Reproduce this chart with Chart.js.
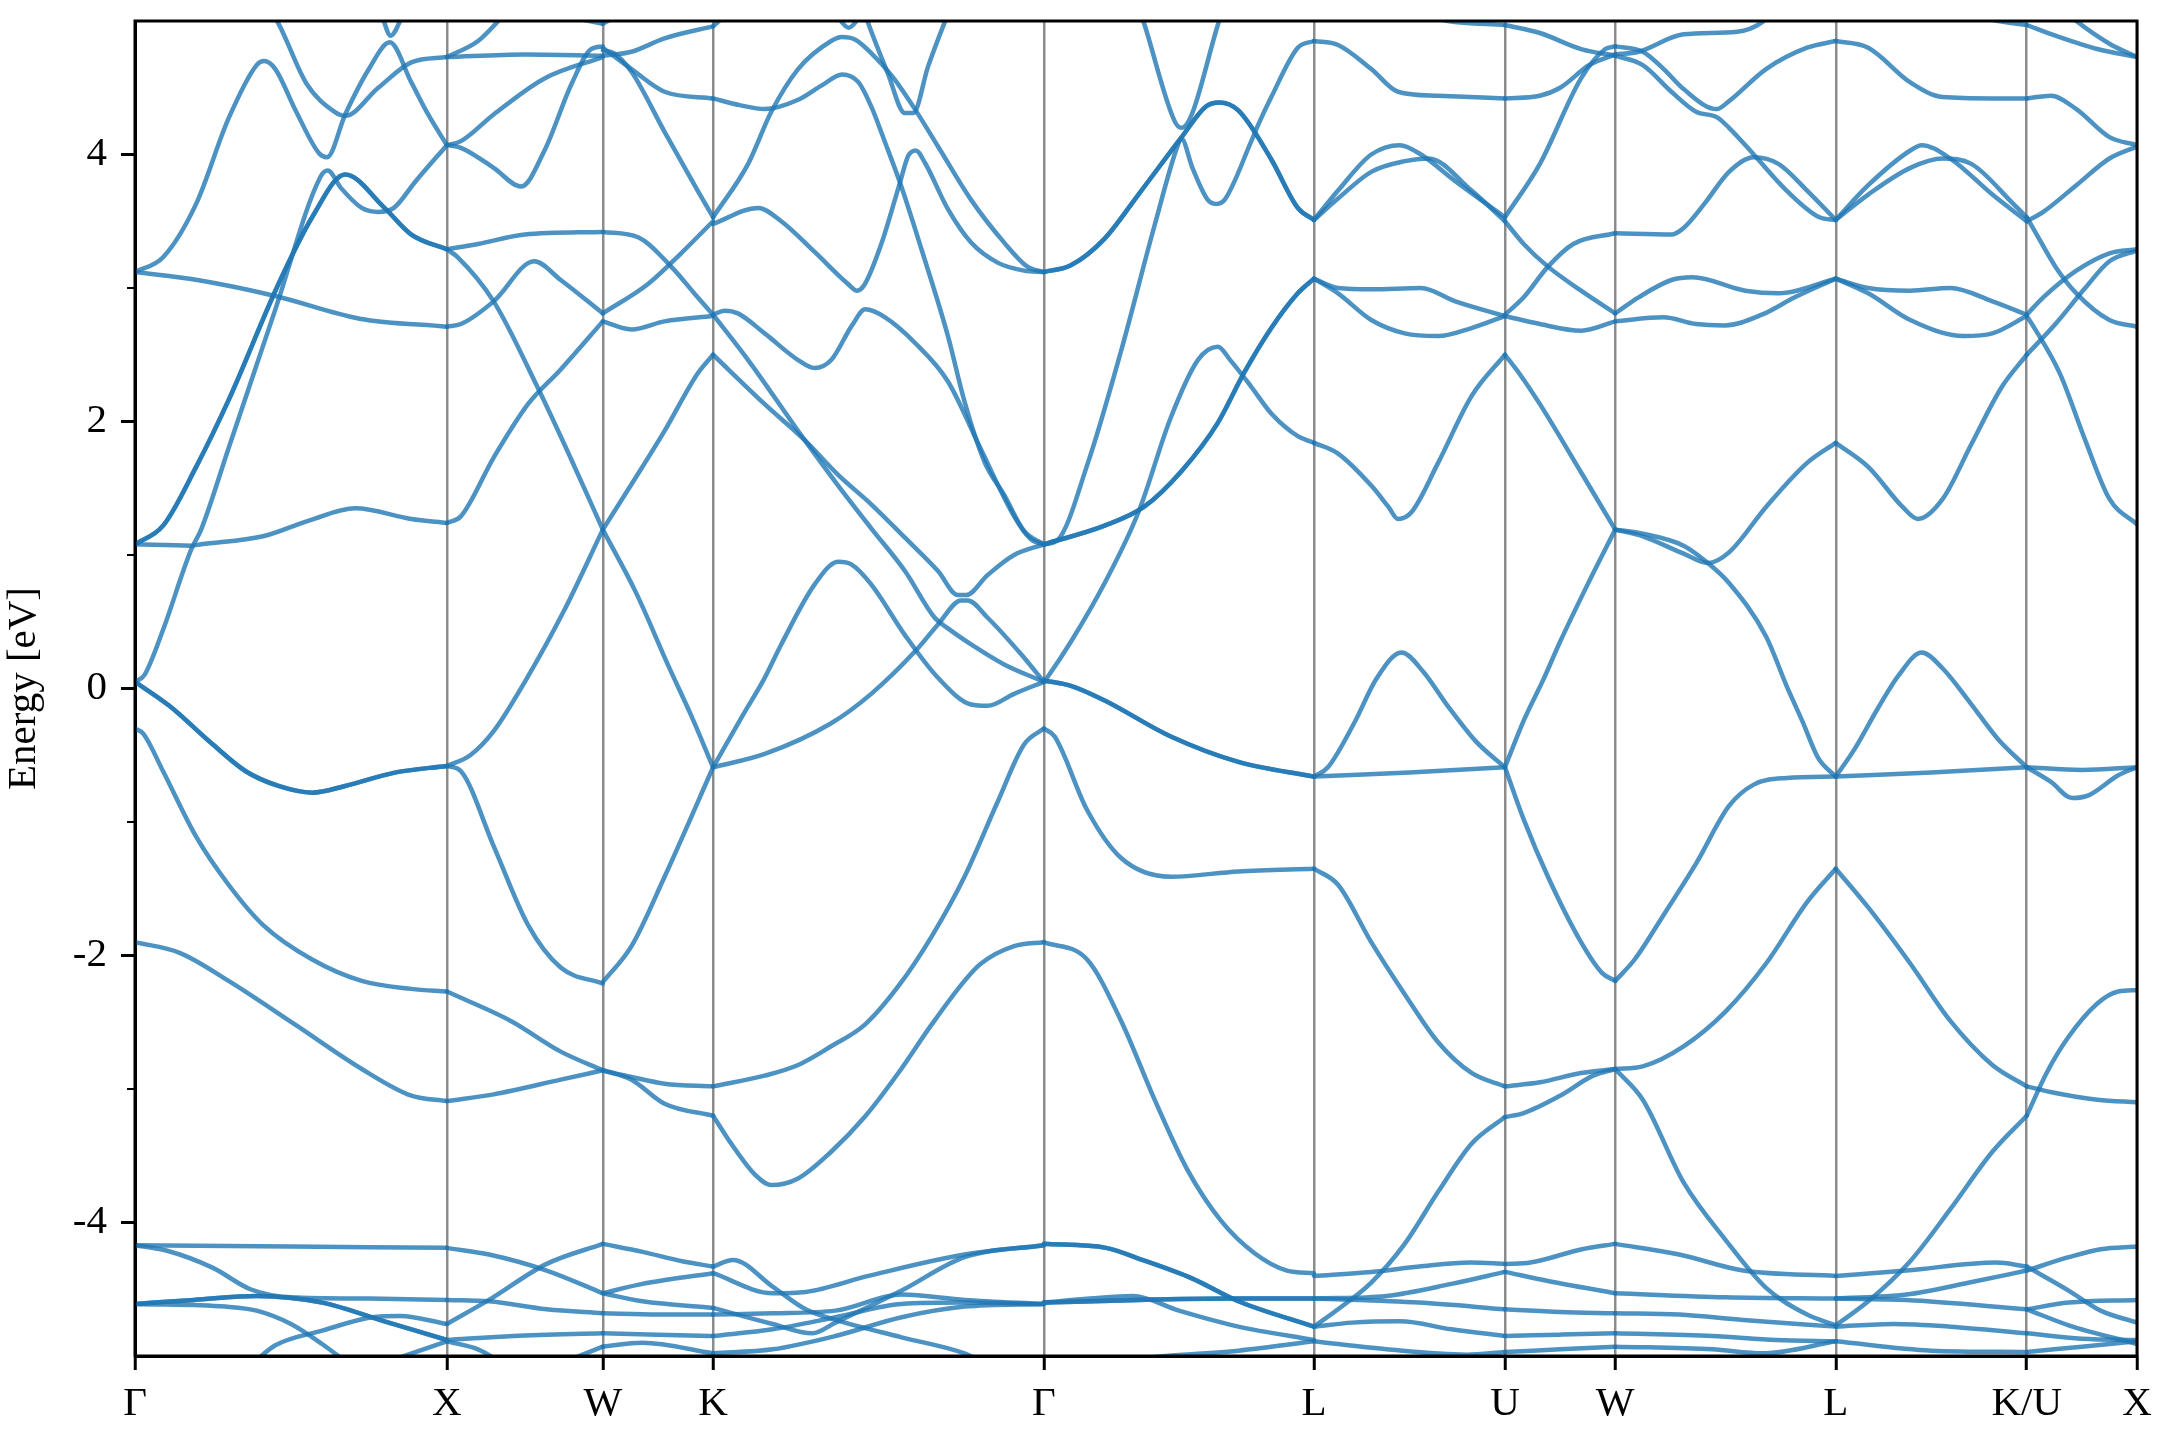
<!DOCTYPE html>
<html>
<head>
<meta charset="utf-8">
<script src="https://cdn.jsdelivr.net/npm/chart.js@4.4.1/dist/chart.umd.min.js"></script>
<style>
  html, body { margin: 0; padding: 0; background: #fff; }
  #bands { display: block; }
</style>
</head>
<body>
<canvas id="bands" width="2160" height="1440"></canvas>
<script>
"use strict";

// High-symmetry path (FCC), segment lengths in 2pi/a
const kLabels = ['Γ', 'X', 'W', 'K', 'Γ', 'L', 'U', 'W', 'L', 'K/U', 'X'];
const segLengths = [1, 0.5, 0.35355, 1.06066, 0.86603, 0.61237, 0.35355, 0.70711, 0.61237, 0.35355];
const energyTicks = [-4, -2, 0, 2, 4];

// degenerate bands are listed twice
const twice = band => [band, band];

// Each band: [fraction along segment, energy in eV]
const gammaX = [
  ...twice([[0,1.08],[0.09,1.22],[0.196,1.66],[0.3,2.16],[0.46,3.03],[0.568,3.53],[0.674,3.85],[0.8,3.6],[0.886,3.4],[1,3.29]]),
  [[0,0.05],[0.03,0.1],[0.09,0.44],[0.18,1.04],[0.212,1.19],[0.3,1.8],[0.45,2.84],[0.594,3.83],[0.618,3.88],[0.66,3.75],[0.727,3.6],[0.78,3.57],[0.83,3.6],[0.9,3.8],[1,4.07]],
  [[0,1.08],[0.18,1.07],[0.212,1.08],[0.41,1.14],[0.56,1.26],[0.706,1.35],[0.886,1.27],[1,1.24]],
  [[0,3.12],[0.2,3.06],[0.45,2.94],[0.72,2.77],[1,2.71]],
  [[0,3.12],[0.09,3.23],[0.196,3.63],[0.3,4.27],[0.39,4.67],[0.414,4.7],[0.45,4.64],[0.515,4.33],[0.59,4.01],[0.616,3.98],[0.674,4.3],[0.75,4.64],[0.817,4.84],[0.886,4.54],[0.94,4.3],[1,4.07]],
  [[0.44,5.05],[0.46,4.98],[0.55,4.53],[0.64,4.32],[0.674,4.29],[0.78,4.5],[0.886,4.69],[1,4.73]],
  [[0.79,5.05],[0.82,4.89],[0.86,5.05]],
  ...twice([[0,0.05],[0.11,-0.13],[0.25,-0.42],[0.355,-0.62],[0.46,-0.73],[0.568,-0.78],[0.674,-0.73],[0.833,-0.63],[1,-0.58]]),
  [[0,-0.3],[0.027,-0.34],[0.09,-0.62],[0.196,-1.11],[0.3,-1.47],[0.41,-1.77],[0.568,-2.03],[0.727,-2.19],[0.886,-2.25],[1,-2.27]],
  [[0,-1.9],[0.143,-1.98],[0.3,-2.19],[0.515,-2.52],[0.727,-2.85],[0.886,-3.05],[1,-3.09]],
  [[0,-4.17],[0.5,-4.18],[1,-4.19]],
  [[0,-4.17],[0.1,-4.21],[0.25,-4.34],[0.37,-4.5],[0.5,-4.56],[0.75,-4.57],[1,-4.58]],
  ...twice([[0,-4.61],[0.19,-4.58],[0.39,-4.55],[0.6,-4.6],[0.8,-4.74],[1,-4.88]]),
  [[0,-4.61],[0.29,-4.63],[0.39,-4.66],[0.5,-4.76],[0.6,-4.91],[0.68,-5.05]],
  [[0.38,-5.05],[0.45,-4.92],[0.6,-4.81],[0.76,-4.71],[0.85,-4.7],[1,-4.76]],
  [[0.8,-5.05],[1,-4.89]]
];

const xW = [
  [[0,4.73],[0.5,4.75],[1,4.74]],
  [[0,4.73],[0.2,4.85],[0.37,5.05]],
  [[0.7,5.05],[1,4.98]],
  [[0,4.07],[0.09,4.05],[0.3,3.9],[0.476,3.76],[0.626,4.03],[0.8,4.53],[0.925,4.79],[1,4.81]],
  [[0,4.07],[0.09,4.1],[0.3,4.3],[0.626,4.57],[1,4.73]],
  [[0,3.29],[0.2,3.33],[0.5,3.4],[1,3.42]],
  [[0,3.29],[0.07,3.23],[0.3,2.9],[0.58,2.26],[0.8,1.71],[1,1.19]],
  [[0,2.71],[0.09,2.73],[0.3,2.9],[0.56,3.2],[0.73,3.06],[1,2.81]],
  [[0,1.24],[0.09,1.29],[0.3,1.73],[0.52,2.13],[0.73,2.39],[1,2.75]],
  [[0,-0.58],[0.15,-0.5],[0.3,-0.32],[0.5,0.05],[0.75,0.58],[1,1.19]],
  [[0,-0.58],[0.09,-0.62],[0.3,-1.18],[0.52,-1.77],[0.73,-2.09],[1,-2.21]],
  [[0,-2.27],[0.41,-2.49],[0.73,-2.72],[1,-2.86]],
  [[0,-3.09],[0.3,-3.04],[0.73,-2.93],[1,-2.86]],
  [[0,-4.19],[0.27,-4.24],[0.64,-4.36],[1,-4.53]],
  [[0,-4.58],[0.27,-4.59],[0.64,-4.65],[1,-4.68]],
  [[0,-4.76],[0.27,-4.58],[0.64,-4.31],[1,-4.16]],
  [[0,-4.88],[0.43,-4.85],[1,-4.83]],
  [[0,-4.89],[0.2,-4.95],[0.35,-5.05]],
  [[0.74,-5.05],[1,-4.93]]
];

const wK = [
  [[0,4.98],[0.15,5.05]],
  [[0,4.74],[0.26,4.77],[0.56,4.87],[1,4.96]],
  [[0,4.8],[0.26,4.64],[0.56,4.47],[1,4.42]],
  [[0,4.78],[0.1,4.76],[0.26,4.62],[0.56,4.17],[0.86,3.73],[1,3.53]],
  [[0,3.42],[0.32,3.38],[0.62,3.16],[0.86,2.93],[1,2.8]],
  [[0,2.81],[0.41,3.03],[0.71,3.26],[1,3.5]],
  [[0,2.75],[0.26,2.69],[0.56,2.75],[1,2.79]],
  [[0,1.19],[0.26,1.53],[0.56,1.93],[0.86,2.36],[1,2.5]],
  [[0,1.19],[0.3,0.72],[0.6,0.16],[0.8,-0.2],[1,-0.59]],
  [[0,-2.2],[0.26,-1.93],[0.56,-1.41],[1,-0.59]],
  [[0,-2.86],[0.26,-2.91],[0.56,-2.96],[1,-2.98]],
  [[0,-2.86],[0.26,-2.93],[0.56,-3.11],[1,-3.2]],
  [[0,-4.16],[0.36,-4.22],[0.72,-4.29],[1,-4.33]],
  [[0,-4.53],[0.36,-4.46],[1,-4.38]],
  [[0,-4.53],[0.36,-4.59],[1,-4.64]],
  [[0,-4.68],[0.5,-4.69],[1,-4.69]],
  [[0,-4.83],[0.5,-4.84],[1,-4.85]],
  [[0,-4.93],[0.36,-4.9],[1,-4.98]]
];

const kGamma = [
  [[0,4.96],[0.04,5.05]],
  [[0.37,5.05],[0.41,4.95],[0.45,5.05]],
  [[0,4.42],[0.08,4.37],[0.156,4.34],[0.257,4.41],[0.33,4.52],[0.39,4.6],[0.44,4.54],[0.478,4.36],[0.52,4.09],[0.565,3.79],[0.63,3.29],[0.71,2.64],[0.76,2.15],[0.82,1.7],[0.88,1.45],[0.94,1.18],[1,1.08]],
  [[0,3.53],[0.106,3.93],[0.176,4.32],[0.257,4.64],[0.357,4.85],[0.39,4.88],[0.43,4.86],[0.478,4.76],[0.54,4.59],[0.61,4.34],[0.68,4.06],[0.78,3.66],[0.88,3.34],[0.95,3.16],[1,3.12]],
  [[0,3.48],[0.136,3.6],[0.206,3.5],[0.307,3.27],[0.408,3.03],[0.435,2.98],[0.459,3.03],[0.51,3.34],[0.565,3.79],[0.59,3.99],[0.613,4.03],[0.64,3.94],[0.71,3.59],[0.78,3.34],[0.86,3.19],[0.94,3.13],[1,3.12]],
  [[0.46,5.05],[0.468,4.99],[0.528,4.61],[0.58,4.31],[0.605,4.31],[0.65,4.66],[0.7,4.99],[0.71,5.05]],
  [[0,2.8],[0.035,2.83],[0.075,2.81],[0.156,2.66],[0.257,2.46],[0.307,2.4],[0.357,2.46],[0.42,2.72],[0.46,2.84],[0.52,2.78],[0.61,2.59],[0.71,2.3],[0.81,1.79],[0.91,1.29],[0.96,1.12],[1,1.08]],
  [[0,2.8],[0.106,2.46],[0.277,1.86],[0.378,1.52],[0.478,1.2],[0.58,0.88],[0.67,0.53],[0.71,0.45],[0.78,0.33],[0.88,0.18],[1,0.05]],
  [[0,2.5],[0.156,2.13],[0.277,1.86],[0.378,1.6],[0.478,1.38],[0.58,1.13],[0.68,0.88],[0.74,0.7],[0.765,0.7],[0.83,0.85],[0.91,1],[1,1.08]],
  [[0,-0.59],[0.09,-0.2],[0.156,0.08],[0.206,0.33],[0.307,0.78],[0.378,0.95],[0.418,0.93],[0.478,0.78],[0.58,0.4],[0.68,0.08],[0.78,-0.12],[0.83,-0.13],[0.91,-0.04],[1,0.05]],
  [[0,-0.59],[0.156,-0.49],[0.357,-0.26],[0.478,-0.04],[0.615,0.29],[0.68,0.48],[0.75,0.66],[0.77,0.66],[0.83,0.53],[0.93,0.26],[1,0.05]],
  [[0,-2.98],[0.156,-2.9],[0.257,-2.82],[0.357,-2.68],[0.458,-2.52],[0.56,-2.23],[0.66,-1.86],[0.76,-1.41],[0.86,-0.85],[0.94,-0.42],[1,-0.3]],
  [[0,-3.2],[0.055,-3.41],[0.126,-3.64],[0.176,-3.72],[0.257,-3.67],[0.357,-3.47],[0.458,-3.21],[0.56,-2.88],[0.66,-2.52],[0.76,-2.19],[0.81,-2.06],[0.91,-1.93],[1,-1.9]],
  [[0,-4.33],[0.06,-4.28],[0.18,-4.48],[0.28,-4.65],[0.37,-4.73],[0.57,-4.86],[0.76,-4.98],[0.82,-5.05]],
  [[0,-4.38],[0.18,-4.53],[0.28,-4.52],[0.47,-4.4],[0.76,-4.24],[1,-4.17]],
  [[0,-4.64],[0.18,-4.76],[0.3,-4.83],[0.37,-4.75],[0.57,-4.51],[0.76,-4.26],[1,-4.17]],
  [[0,-4.69],[0.18,-4.68],[0.37,-4.66],[0.57,-4.54],[0.76,-4.58],[1,-4.61]],
  [[0,-4.85],[0.18,-4.8],[0.37,-4.71],[0.57,-4.61],[0.76,-4.6],[1,-4.61]],
  [[0,-4.98],[0.18,-4.95],[0.37,-4.85],[0.57,-4.71],[0.76,-4.63],[1,-4.61]]
];

const gammaL = [
  [[0,1.08],[0.05,1.11],[0.163,1.69],[0.286,2.53],[0.41,3.47],[0.496,4.07],[0.509,4.12],[0.55,3.9],[0.607,3.66],[0.638,3.63],[0.669,3.66],[0.768,4.1],[0.793,4.22],[0.842,4.43],[0.94,4.8],[1,4.85]],
  [[0.36,5.05],[0.373,4.97],[0.484,4.25],[0.509,4.2],[0.644,4.97],[0.655,5.05]],
  ...twice([[0,3.12],[0.1,3.17],[0.225,3.37],[0.35,3.7],[0.51,4.13],[0.6,4.36],[0.65,4.39],[0.72,4.33],[0.84,3.97],[0.94,3.6],[1,3.51]]),
  ...twice([[0,1.08],[0.225,1.22],[0.37,1.36],[0.51,1.63],[0.644,1.99],[0.74,2.36],[0.842,2.7],[0.94,2.96],[1,3.07]]),
  [[0,0.05],[0.015,0.09],[0.1,0.35],[0.225,0.79],[0.35,1.32],[0.47,2.03],[0.57,2.46],[0.644,2.56],[0.69,2.46],[0.768,2.26],[0.842,2.06],[0.94,1.89],[1,1.84]],
  ...twice([[0,0.06],[0.1,0.02],[0.225,-0.09],[0.47,-0.36],[0.72,-0.55],[1,-0.66]]),
  [[0,-0.3],[0.04,-0.36],[0.16,-0.91],[0.286,-1.27],[0.47,-1.41],[0.72,-1.37],[1,-1.35]],
  [[0,-1.9],[0.16,-2.03],[0.286,-2.49],[0.41,-3.08],[0.53,-3.6],[0.657,-3.99],[0.78,-4.23],[0.9,-4.36],[1,-4.38]],
  ...twice([[0,-4.16],[0.23,-4.19],[0.35,-4.27],[0.55,-4.42],[0.72,-4.59],[1,-4.78]]),
  ...twice([[0,-4.6],[0.35,-4.58],[0.7,-4.57],[1,-4.57]]),
  [[0,-4.6],[0.17,-4.57],[0.33,-4.55],[0.5,-4.66],[0.72,-4.78],[1,-4.88]],
  [[0.2,-5.05],[0.45,-5],[0.72,-4.96],[1,-4.89]]
];

const lU = [
  [[0.55,5.05],[0.7,5],[1,4.97]],
  [[0,4.85],[0.126,4.82],[0.3,4.64],[0.44,4.47],[0.65,4.44],[1,4.42]],
  [[0,3.51],[0.126,3.73],[0.3,4],[0.45,4.07],[0.56,4],[0.74,3.8],[1,3.53]],
  [[0,3.51],[0.126,3.67],[0.3,3.87],[0.475,3.95],[0.6,3.97],[0.825,3.73],[1,3.5]],
  [[0,3.07],[0.126,3],[0.3,2.99],[0.56,3],[0.74,2.9],[1,2.79]],
  [[0,3.07],[0.126,2.96],[0.3,2.76],[0.475,2.66],[0.65,2.64],[0.825,2.7],[1,2.79]],
  [[0,1.84],[0.126,1.76],[0.3,1.52],[0.39,1.36],[0.44,1.27],[0.51,1.32],[0.65,1.69],[0.825,2.19],[1,2.5]],
  [[0,-0.66],[0.5,-0.63],[1,-0.59]],
  [[0,-0.66],[0.073,-0.59],[0.21,-0.26],[0.33,0.08],[0.458,0.27],[0.57,0.13],[0.7,-0.13],[0.85,-0.4],[1,-0.59]],
  [[0,-1.35],[0.126,-1.47],[0.3,-1.9],[0.475,-2.29],[0.65,-2.65],[0.825,-2.88],[1,-2.98]],
  [[0,-4.78],[0.126,-4.65],[0.3,-4.45],[0.475,-4.16],[0.65,-3.77],[0.825,-3.41],[1,-3.21]],
  [[0,-4.4],[0.3,-4.37],[0.55,-4.33],[0.82,-4.3],[1,-4.31]],
  [[0,-4.57],[0.38,-4.55],[0.72,-4.46],[1,-4.37]],
  [[0,-4.57],[0.55,-4.6],[1,-4.65]],
  [[0,-4.78],[0.2,-4.75],[0.45,-4.74],[0.72,-4.8],[1,-4.85]],
  [[0,-4.89],[0.38,-4.95],[0.8,-4.99],[1,-4.97]]
];

const uW = [
  [[0,4.97],[0.317,4.91],[0.69,4.79],[1,4.74]],
  [[0,4.42],[0.317,4.44],[0.5,4.5],[0.765,4.67],[1,4.75]],
  [[0,3.53],[0.317,3.93],[0.69,4.57],[0.91,4.79],[1,4.81]],
  [[0,3.5],[0.17,3.33],[0.39,3.16],[0.69,2.98],[1,2.81]],
  [[0,2.8],[0.17,2.93],[0.39,3.16],[0.62,3.33],[1,3.41]],
  [[0,2.79],[0.317,2.73],[0.69,2.68],[1,2.75]],
  [[0,2.5],[0.13,2.36],[0.317,2.13],[0.69,1.62],[1,1.19]],
  [[0,-0.59],[0.17,-0.24],[0.35,0.07],[0.5,0.35],[0.75,0.78],[1,1.19]],
  [[0,-0.59],[0.17,-0.98],[0.39,-1.41],[0.69,-1.9],[0.88,-2.13],[1,-2.19]],
  [[0,-2.98],[0.317,-2.95],[0.69,-2.88],[1,-2.85]],
  [[0,-3.21],[0.17,-3.18],[0.5,-3.05],[0.8,-2.9],[1,-2.85]],
  [[0,-4.31],[0.23,-4.3],[0.7,-4.2],[1,-4.16]],
  [[0,-4.37],[0.4,-4.44],[1,-4.53]],
  [[0,-4.65],[0.5,-4.67],[1,-4.68]],
  [[0,-4.85],[0.5,-4.84],[1,-4.83]],
  [[0,-4.97],[0.5,-4.95],[1,-4.93]]
];

const wL = [
  [[0,4.74],[0.125,4.67],[0.255,4.47],[0.367,4.32],[0.46,4.28],[0.516,4.2],[0.628,4],[0.777,3.73],[0.926,3.53],[1,3.51]],
  [[0,4.81],[0.125,4.77],[0.22,4.64],[0.31,4.49],[0.46,4.34],[0.516,4.4],[0.684,4.64],[0.87,4.8],[1,4.85]],
  [[0,4.75],[0.106,4.77],[0.31,4.9],[0.553,4.92],[0.665,4.99],[0.7,5.05]],
  [[0,3.41],[0.255,3.4],[0.31,3.45],[0.404,3.63],[0.516,3.87],[0.628,3.98],[0.74,3.93],[0.87,3.73],[1,3.51]],
  [[0,2.81],[0.106,2.93],[0.255,3.06],[0.35,3.08],[0.59,2.98],[0.74,2.96],[1,3.07]],
  [[0,2.75],[0.218,2.78],[0.367,2.73],[0.497,2.72],[0.665,2.8],[0.814,2.93],[1,3.07]],
  [[0,1.19],[0.125,1.14],[0.31,1.01],[0.42,0.94],[0.516,1.02],[0.684,1.36],[0.87,1.69],[1,1.84]],
  [[0,1.19],[0.125,1.16],[0.31,1.07],[0.42,0.94],[0.516,0.79],[0.684,0.39],[0.777,0.02],[0.85,-0.25],[0.92,-0.52],[1,-0.66]],
  [[0,-2.19],[0.088,-2.03],[0.218,-1.7],[0.367,-1.31],[0.516,-0.88],[0.628,-0.72],[0.777,-0.67],[1,-0.66]],
  [[0,-2.85],[0.125,-2.83],[0.31,-2.68],[0.5,-2.42],[0.684,-2.06],[0.87,-1.6],[1,-1.35]],
  [[0,-2.85],[0.125,-3.08],[0.31,-3.7],[0.5,-4.13],[0.684,-4.49],[0.87,-4.69],[1,-4.77]],
  [[0,-4.16],[0.29,-4.24],[0.58,-4.36],[1,-4.4]],
  [[0,-4.53],[0.5,-4.56],[1,-4.57]],
  [[0,-4.68],[0.29,-4.69],[0.58,-4.73],[1,-4.78]],
  [[0,-4.83],[0.44,-4.85],[0.73,-4.88],[1,-4.89]],
  [[0,-4.93],[0.44,-4.95],[0.67,-4.98],[1,-4.89]]
];

const lK = [
  [[0.7,5.05],[0.85,5],[1,4.97]],
  [[0,4.85],[0.17,4.8],[0.39,4.54],[0.56,4.43],[0.82,4.42],[1,4.42]],
  [[0,3.51],[0.17,3.77],[0.39,4.03],[0.45,4.07],[0.6,3.97],[0.82,3.7],[1,3.5]],
  [[0,3.51],[0.17,3.7],[0.39,3.9],[0.56,3.97],[0.71,3.93],[0.93,3.63],[1,3.53]],
  [[0,3.07],[0.17,3],[0.39,2.98],[0.6,3],[0.82,2.9],[1,2.8]],
  [[0,3.07],[0.17,2.96],[0.39,2.76],[0.67,2.64],[0.82,2.66],[1,2.79]],
  [[0,1.84],[0.17,1.66],[0.35,1.36],[0.43,1.27],[0.56,1.42],[0.71,1.83],[0.87,2.26],[1,2.5]],
  [[0,-0.66],[0.5,-0.63],[1,-0.59]],
  [[0,-0.66],[0.1,-0.45],[0.22,-0.15],[0.33,0.1],[0.45,0.27],[0.56,0.15],[0.7,-0.1],[0.85,-0.38],[1,-0.59]],
  [[0,-1.35],[0.17,-1.64],[0.39,-2.06],[0.6,-2.49],[0.82,-2.82],[1,-2.98]],
  [[0,-4.77],[0.17,-4.59],[0.39,-4.29],[0.6,-3.9],[0.82,-3.47],[1,-3.2]],
  [[0,-4.4],[0.37,-4.36],[0.84,-4.3],[1,-4.33]],
  [[0,-4.57],[0.37,-4.54],[0.7,-4.45],[1,-4.36]],
  [[0,-4.57],[0.37,-4.58],[1,-4.65]],
  [[0,-4.78],[0.3,-4.76],[0.6,-4.78],[1,-4.83]],
  [[0,-4.89],[0.5,-4.96],[1,-4.97]]
];

const uX = [
  [[0,4.97],[0.26,4.89],[0.64,4.79],[1,4.73]],
  [[0.38,5.05],[0.45,5],[0.75,4.83],[1,4.73]],
  [[0,4.42],[0.22,4.44],[0.45,4.34],[0.75,4.13],[1,4.07]],
  [[0,3.5],[0.15,3.57],[0.45,3.77],[0.75,3.97],[1,4.06]],
  [[0,3.53],[0.07,3.43],[0.26,3.16],[0.45,2.96],[0.75,2.76],[1,2.71]],
  [[0,2.8],[0.15,2.93],[0.45,3.13],[0.75,3.26],[1,3.29]],
  [[0,2.5],[0.26,2.73],[0.53,3],[0.75,3.2],[1,3.28]],
  [[0,2.79],[0.07,2.7],[0.3,2.36],[0.53,1.86],[0.75,1.42],[1,1.23]],
  [[0,-0.59],[0.5,-0.61],[1,-0.59]],
  [[0,-0.59],[0.22,-0.7],[0.41,-0.82],[0.56,-0.8],[0.83,-0.65],[1,-0.59]],
  [[0,-2.98],[0.26,-3.03],[0.64,-3.08],[1,-3.1]],
  [[0,-3.2],[0.18,-2.88],[0.37,-2.62],[0.64,-2.36],[0.83,-2.27],[1,-2.26]],
  [[0,-4.33],[0.38,-4.51],[0.67,-4.66],[1,-4.75]],
  [[0,-4.36],[0.38,-4.26],[0.67,-4.2],[1,-4.18]],
  [[0,-4.65],[0.38,-4.6],[1,-4.58]],
  [[0,-4.65],[0.38,-4.77],[1,-4.91]],
  [[0,-4.83],[0.5,-4.87],[1,-4.88]],
  [[0,-4.97],[0.5,-4.93],[1,-4.89]]
];

const segBands = [gammaX, xW, wK, kGamma, gammaL, lU, uW, wL, lK, uX];

// cumulative k position of every labelled point
const kTicks = [0];
segLengths.forEach(len => kTicks.push(kTicks[kTicks.length - 1] + len));

const lineColor = 'rgba(31, 119, 180, 0.8)';
const serif = "'Liberation Serif', 'DejaVu Serif', serif";

const datasets = [];
segBands.forEach((bands, i) => {
    const start = kTicks[i];
    const len = segLengths[i];
    bands.forEach(band => {
        datasets.push({
            data: band.map(([t, e]) => ({ x: start + t * len, y: e })),
            borderColor: lineColor,
            borderWidth: 4.5,
            borderCapStyle: 'round',
            borderJoinStyle: 'round',
            pointRadius: 0,
            showLine: true,
            fill: false,
            cubicInterpolationMode: 'monotone',
            clip: 0
        });
    });
});

// Frame + short minor ticks on the energy axis
const frame = {
    id: 'frame',
    afterDraw(chart) {
        const { ctx, chartArea: a, scales: { y } } = chart;
        ctx.save();
        ctx.strokeStyle = '#000';
        ctx.lineWidth = 2;
        for (let v = -3; v <= 3; v += 2) {
            const py = y.getPixelForValue(v);
            ctx.beginPath();
            ctx.moveTo(a.left - 8, py);
            ctx.lineTo(a.left, py);
            ctx.stroke();
        }
        ctx.lineWidth = 3;
        ctx.strokeRect(a.left, a.top, a.right - a.left, a.bottom - a.top);
        ctx.restore();
    }
};

new Chart(document.getElementById('bands'), {
    type: 'scatter',
    data: { datasets },
    options: {
        responsive: false,
        animation: false,
        devicePixelRatio: 1,
        events: [],
        layout: { padding: { top: 21, right: 23, left: 0, bottom: 0 } },
        plugins: { legend: { display: false }, tooltip: { enabled: false } },
        scales: {
            x: {
                type: 'linear',
                min: 0,
                max: kTicks[kTicks.length - 1],
                afterBuildTicks: s => { s.ticks = kTicks.map(value => ({ value })); },
                afterFit: s => { s.height = 84; s.paddingLeft = 0; s.paddingRight = 0; },
                ticks: {
                    autoSkip: false,
                    maxRotation: 0,
                    padding: 10,
                    color: '#000',
                    font: { family: serif, size: 41 },
                    callback: (v, i) => kLabels[i]
                },
                grid: { color: 'rgba(0,0,0,0.45)', lineWidth: 2.5, tickColor: '#000', tickLength: 14, tickWidth: 3 },
                border: { display: true, color: '#000', width: 3 }
            },
            y: {
                min: -5,
                max: 5,
                afterFit: s => { s.width = 135; s.paddingTop = 0; s.paddingBottom = 0; },
                ticks: {
                    stepSize: 1,
                    padding: 14,
                    color: '#000',
                    font: { family: serif, size: 41 },
                    callback: v => energyTicks.includes(v) ? String(v) : ''
                },
                grid: {
                    drawOnChartArea: false,
                    tickLength: 14,
                    tickWidth: 3,
                    tickColor: c => energyTicks.includes(c.tick && c.tick.value) ? '#000' : 'rgba(0,0,0,0)'
                },
                border: { display: true, color: '#000', width: 3 },
                title: {
                    display: true,
                    text: 'Energy [eV]',
                    color: '#000',
                    padding: 0,
                    font: { family: serif, size: 41 }
                }
            }
        }
    },
    plugins: [frame]
});
</script>
</body>
</html>
